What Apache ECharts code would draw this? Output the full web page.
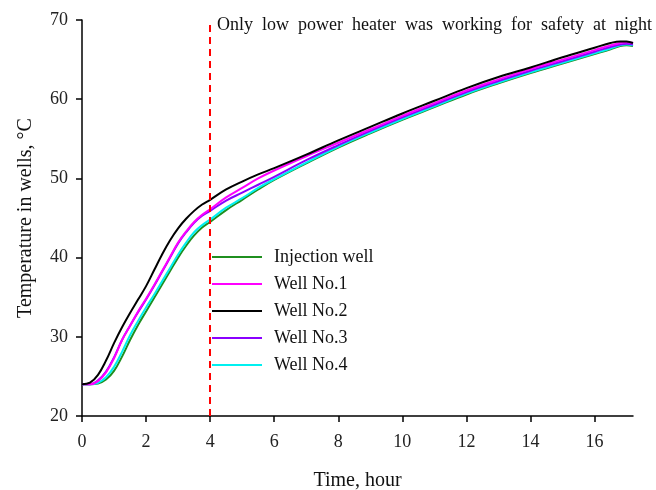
<!DOCTYPE html>
<html><head><meta charset="utf-8">
<script src="https://cdn.jsdelivr.net/npm/echarts@6/dist/echarts.min.js"></script>
<style>html,body{margin:0;padding:0;background:#fff}#c{width:656px;height:490px}</style>
</head><body><div id="c"></div>
<script>
const times = [0,0.25,0.5,0.75,1,1.25,1.5,1.75,2,2.25,2.5,2.75,3,3.25,3.5,3.75,4,4.5,5,5.5,6,7,8,9,10,11,12,13,14,15,16,16.5,16.8,17,17.2];
const injectionWell = [24.0,24.0,24.1,24.6,25.7,27.5,29.6,31.5,33.2,34.9,36.6,38.3,40.0,41.5,42.8,43.8,44.5,46.0,47.3,48.6,49.8,51.9,53.9,55.7,57.4,59.0,60.6,62.0,63.3,64.5,65.7,66.3,66.7,66.8,66.7];
const well1 = [24.0,24.0,24.4,25.5,27.3,29.6,31.4,33.2,34.8,36.5,38.3,40.1,41.9,43.3,44.5,45.4,46.1,47.6,48.8,50.0,51.0,52.8,54.5,56.2,57.9,59.5,61.1,62.5,63.8,65.0,66.2,66.8,67.1,67.2,67.1];
const well2 = [24.0,24.2,25.2,27.0,29.2,31.2,33.0,34.7,36.4,38.4,40.4,42.2,43.7,44.9,45.9,46.7,47.3,48.6,49.6,50.5,51.3,53.0,54.8,56.5,58.2,59.8,61.4,62.8,64.0,65.3,66.5,67.1,67.3,67.3,67.1];
const well3 = [24.0,24.0,24.5,25.6,27.4,29.6,31.4,33.1,34.7,36.4,38.2,40.0,41.8,43.2,44.4,45.3,45.9,47.2,48.2,49.2,50.2,52.3,54.2,56.0,57.7,59.3,60.9,62.3,63.6,64.8,66.0,66.6,66.9,67.0,66.9];
const well4 = [24.0,24.0,24.2,24.9,26.2,28.1,30.2,32.0,33.7,35.3,37.0,38.7,40.4,41.9,43.2,44.1,44.8,46.3,47.5,48.8,49.9,52.0,54.0,55.8,57.5,59.1,60.7,62.1,63.4,64.6,65.8,66.4,66.8,66.9,66.8];
const seriesNames = ['Injection well','Well No.1','Well No.2','Well No.3','Well No.4'];
const xTicks = [0,2,4,6,8,10,12,14,16];
const markTime = 4;
const noteText = 'Only  low  power  heater  was  working  for  safety  at  night';

const font = '"Liberation Serif", "Times New Roman", serif';
const colors = {'Injection well':'#1f8f1f','Well No.1':'#ff00ff','Well No.2':'#000000','Well No.3':'#8a00ff','Well No.4':'#00f0f0'};
const dataMap = {'Injection well':injectionWell,'Well No.1':well1,'Well No.2':well2,'Well No.3':well3,'Well No.4':well4};
const drawOrder = ['Injection well','Well No.4','Well No.3','Well No.1','Well No.2'];

const series = drawOrder.map(n => ({
  name: n, type: 'line', smooth: 0.4, symbol: 'none', showSymbol: false,
  lineStyle: {color: colors[n], width: 2}, itemStyle: {color: colors[n]},
  data: times.map((t,i) => [t, dataMap[n][i]]), z: 3
}));
series.push({
  type: 'line', data: [], silent: true,
  markLine: {symbol: 'none', silent: true, label: {show: false},
    lineStyle: {color: '#ff0000', type: [7,5], width: 2},
    data: [{xAxis: markTime}]}
});

const chart = echarts.init(document.getElementById('c'), null, {renderer: 'canvas'});
chart.setOption({
  animation: false,
  backgroundColor: '#fff',
  grid: {left: 82, right: 23, top: 20, bottom: 74, containLabel: false, outerBoundsMode: 'none'},
  xAxis: {
    type: 'value', min: 0, max: 17.2,
    name: 'Time, hour', nameLocation: 'middle', nameGap: 55,
    nameTextStyle: {fontFamily: font, fontSize: 20, color: '#111'},
    axisLine: {show: true, lineStyle: {color: '#000', width: 1.5}},
    axisTick: {show: true, length: 6, lineStyle: {color: '#000', width: 1.5}, customValues: xTicks},
    axisLabel: {fontFamily: font, fontSize: 18, color: '#222', margin: 17, customValues: xTicks},
    splitLine: {show: false}
  },
  yAxis: {
    type: 'value', min: 20, max: 70, interval: 10,
    name: 'Temperature in wells, °C', nameLocation: 'middle', nameGap: 46, nameRotate: 90,
    nameTextStyle: {fontFamily: font, fontSize: 20, color: '#111'},
    axisLine: {show: true, lineStyle: {color: '#000', width: 1.5}},
    axisTick: {show: true, length: 6, lineStyle: {color: '#000', width: 1.5}},
    axisLabel: {fontFamily: font, fontSize: 18, color: '#222', margin: 14},
    splitLine: {show: false}
  },
  legend: {
    orient: 'vertical', left: 207, top: 243, icon: 'rect', itemWidth: 50, itemHeight: 2, itemGap: 9,
    data: seriesNames,
    textStyle: {fontFamily: font, fontSize: 18, color: '#111', padding: [0,0,0,7]}
  },
  graphic: [{type: 'text', left: 217, top: 16, style: {text: noteText, font: '18px ' + font, fill: '#111'}}],
  series: series
});
</script></body></html>
